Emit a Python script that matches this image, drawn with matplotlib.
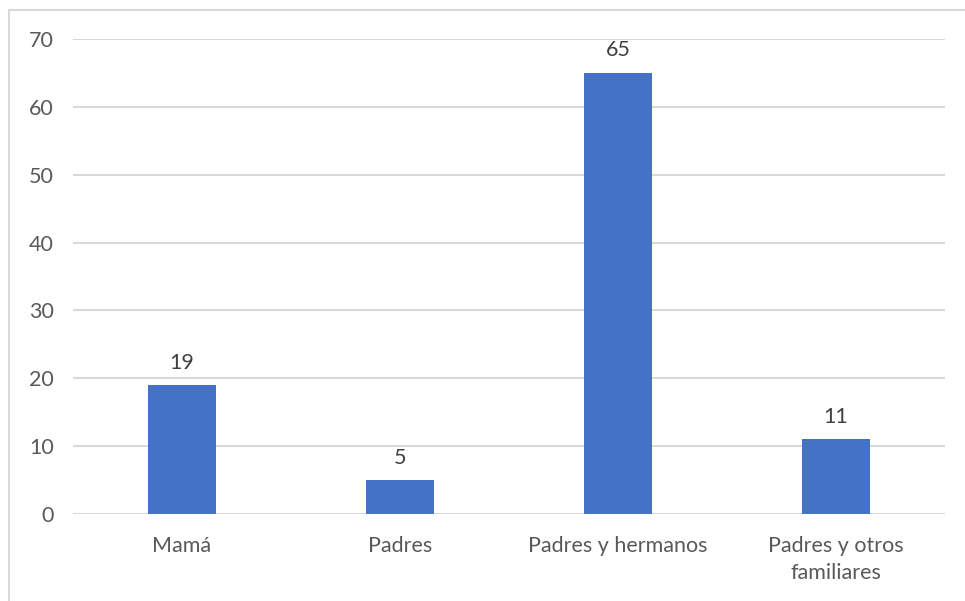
import matplotlib
matplotlib.use("Agg")
import matplotlib.pyplot as plt
from matplotlib.patches import Rectangle

categories = ["Mamá", "Padres", "Padres y hermanos", "Padres y otros\nfamiliares"]
values = [19, 5, 65, 11]
yticks = [0, 10, 20, 30, 40, 50, 60, 70]

plt.rcParams['font.family'] = ['Lato', 'DejaVu Sans']

fig = plt.figure(figsize=(9.65, 6.01), dpi=100)
fig.patch.set_facecolor("white")

# outer chart border
fig.patches.append(Rectangle((9/965, -0.05), 1.0, 1 - 10/601 + 0.05,
                             transform=fig.transFigure, fill=False,
                             edgecolor="#d9d9d9", linewidth=1.5))

ax = fig.add_axes([73/965, 87/601, (945-73)/965, (514-39)/601])
x = range(len(categories))
bars = ax.bar(x, values, width=0.31, color="#4472c4", zorder=3)
ax.set_xlim(-0.5, len(categories) - 0.5)
ax.set_ylim(0, 70)
ax.set_yticks(yticks)
ax.set_xticks(list(x))
ax.set_xticklabels(categories, fontsize=15.5, color="#595959", linespacing=1.4)
ax.tick_params(axis="y", labelsize=15.5, labelcolor="#595959", length=0, pad=14)
ax.tick_params(axis="x", length=0, pad=16)
ax.grid(axis="y", color="#d9d9d9", linewidth=1.5, zorder=0)
for s in ax.spines.values():
    s.set_visible(False)
for b, v in zip(bars, values):
    ax.annotate(str(v), (b.get_x() + b.get_width() / 2, v), xytext=(0, 9),
                textcoords="offset points", ha="center", va="bottom",
                fontsize=15.5, color="#404040")

fig.savefig("out.png", dpi=100, facecolor="white")
